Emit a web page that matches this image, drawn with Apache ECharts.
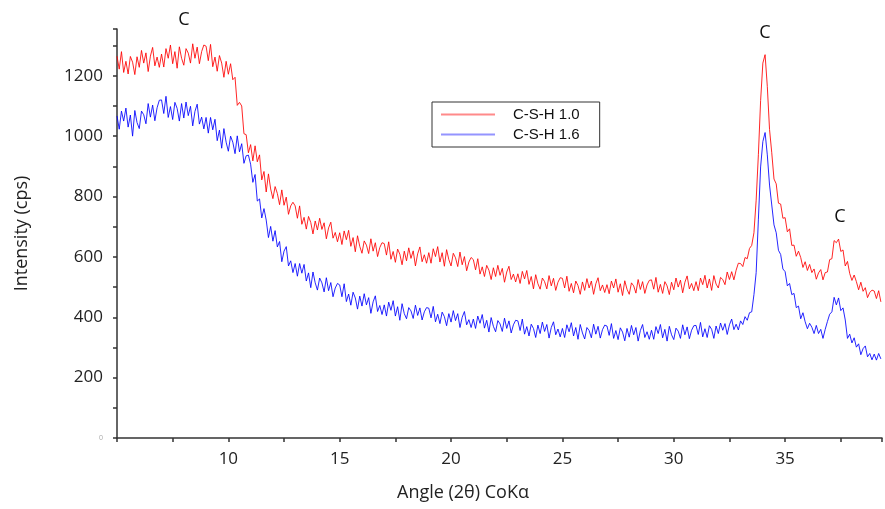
<!DOCTYPE html>
<html>
<head>
<meta charset="utf-8">
<script src="https://cdn.jsdelivr.net/npm/echarts@6/dist/echarts.min.js"></script>
<style>
html,body{margin:0;padding:0;background:#fff;}
#chart{width:885px;height:509px;}
</style>
</head>
<body>
<div id="chart"></div>
<script>
const angles = [
5.0,5.1,5.2,5.3,5.4,5.5,5.6,5.7,5.8,5.9,
6.0,6.1,6.2,6.3,6.4,6.5,6.6,6.7,6.8,6.9,
7.0,7.1,7.2,7.3,7.4,7.5,7.6,7.7,7.8,7.9,
8.0,8.1,8.2,8.3,8.4,8.5,8.6,8.7,8.8,8.9,
9.0,9.1,9.2,9.3,9.4,9.5,9.6,9.7,9.8,9.9,
10.0,10.1,10.2,10.3,10.4,10.5,10.6,10.7,10.8,10.9,
11.0,11.1,11.2,11.3,11.4,11.5,11.6,11.7,11.8,11.9,
12.0,12.1,12.2,12.3,12.4,12.5,12.6,12.7,12.8,12.9,
13.0,13.1,13.2,13.3,13.4,13.5,13.6,13.7,13.8,13.9,
14.0,14.1,14.2,14.3,14.4,14.5,14.6,14.7,14.8,14.9,
15.0,15.1,15.2,15.3,15.4,15.5,15.6,15.7,15.8,15.9,
16.0,16.1,16.2,16.3,16.4,16.5,16.6,16.7,16.8,16.9,
17.0,17.1,17.2,17.3,17.4,17.5,17.6,17.7,17.8,17.9,
18.0,18.1,18.2,18.3,18.4,18.5,18.6,18.7,18.8,18.9,
19.0,19.1,19.2,19.3,19.4,19.5,19.6,19.7,19.8,19.9,
20.0,20.1,20.2,20.3,20.4,20.5,20.6,20.7,20.8,20.9,
21.0,21.1,21.2,21.3,21.4,21.5,21.6,21.7,21.8,21.9,
22.0,22.1,22.2,22.3,22.4,22.5,22.6,22.7,22.8,22.9,
23.0,23.1,23.2,23.3,23.4,23.5,23.6,23.7,23.8,23.9,
24.0,24.1,24.2,24.3,24.4,24.5,24.6,24.7,24.8,24.9,
25.0,25.1,25.2,25.3,25.4,25.5,25.6,25.7,25.8,25.9,
26.0,26.1,26.2,26.3,26.4,26.5,26.6,26.7,26.8,26.9,
27.0,27.1,27.2,27.3,27.4,27.5,27.6,27.7,27.8,27.9,
28.0,28.1,28.2,28.3,28.4,28.5,28.6,28.7,28.8,28.9,
29.0,29.1,29.2,29.3,29.4,29.5,29.6,29.7,29.8,29.9,
30.0,30.1,30.2,30.3,30.4,30.5,30.6,30.7,30.8,30.9,
31.0,31.1,31.2,31.3,31.4,31.5,31.6,31.7,31.8,31.9,
32.0,32.1,32.2,32.3,32.4,32.5,32.6,32.7,32.8,32.9,
33.0,33.1,33.2,33.3,33.4,33.5,33.6,33.7,33.8,33.9,
34.0,34.1,34.2,34.3,34.4,34.5,34.6,34.7,34.8,34.9,
35.0,35.1,35.2,35.3,35.4,35.5,35.6,35.7,35.8,35.9,
36.0,36.1,36.2,36.3,36.4,36.5,36.6,36.7,36.8,36.9,
37.0,37.1,37.2,37.3,37.4,37.5,37.6,37.7,37.8,37.9,
38.0,38.1,38.2,38.3,38.4,38.5,38.6,38.7,38.8,38.9,
39.0,39.1,39.2,39.3
];

const csh10 = [
1265,1222,1280,1211,1248,1206,1264,1245,1204,1263,
1228,1284,1242,1276,1214,1265,1294,1233,1262,1228,
1272,1229,1290,1258,1302,1240,1280,1225,1296,1258,
1235,1290,1275,1242,1306,1258,1295,1240,1280,1302,
1298,1250,1304,1230,1262,1215,1267,1242,1195,1248,
1205,1240,1187,1195,1102,1112,1100,1008,1005,945,
972,918,968,915,938,855,883,815,875,825,
793,833,810,773,822,771,798,741,769,781,
769,728,769,708,731,692,734,714,676,719,
689,728,691,713,660,696,715,662,681,650,
680,641,686,657,688,635,664,617,670,635,
612,653,639,611,660,619,647,601,631,647,
644,606,650,592,618,582,626,609,574,619,
587,630,595,620,570,610,633,584,607,579,
614,579,627,601,634,583,614,569,624,591,
570,612,597,568,616,574,601,554,583,598,
591,557,594,543,567,535,572,556,525,564,
535,572,539,562,516,550,569,525,543,517,
544,512,552,527,555,509,535,494,541,511,
493,530,518,494,538,504,529,489,516,531,
529,497,536,486,512,481,520,505,476,517,
489,528,497,520,476,511,531,488,507,482,
508,478,520,497,527,483,511,472,521,493,
476,514,504,480,525,492,518,479,507,522,
524,493,532,483,509,479,518,504,475,516,
491,530,500,523,481,516,537,494,512,488,
518,488,530,508,539,497,527,489,538,510,
497,532,525,508,550,525,551,524,556,579,
578,568,598,594,628,638,680,788,940,1118,
1242,1270,1165,1022,945,858,842,778,775,728,
730,683,693,638,639,602,619,598,565,584,
555,575,548,560,526,547,558,524,548,550,
591,594,654,647,659,618,623,570,585,545,
522,540,518,491,516,486,498,465,482,490,
487,462,488,451
];

const csh16 = [
1067,1023,1083,1050,1093,1030,1070,1000,1085,1045,
1025,1083,1071,1041,1108,1063,1103,1051,1094,1119,
1120,1075,1132,1062,1098,1055,1112,1092,1050,1108,
1060,1113,1068,1099,1034,1082,1106,1040,1063,1024,
1062,1010,1062,1021,1056,985,1020,960,1025,980,
950,1000,980,942,1001,948,975,910,935,937,
907,847,873,785,792,729,760,722,664,701,
652,687,633,651,584,619,634,570,587,548,
578,536,578,546,575,520,547,498,550,514,
490,530,514,484,531,488,515,468,497,512,
507,468,511,452,477,440,483,464,427,470,
437,478,441,465,413,451,471,419,439,409,
441,404,450,423,455,404,435,390,445,412,
395,432,421,396,440,406,431,391,418,432,
430,398,436,385,410,379,417,402,372,412,
384,422,389,412,366,400,419,375,392,366,
394,363,404,380,409,364,390,351,399,370,
352,389,378,353,397,363,388,348,375,390,
388,356,394,344,369,338,377,363,333,374,
346,384,353,376,331,366,385,342,361,335,
363,333,375,352,382,338,366,327,376,348,
328,366,356,332,377,344,370,331,359,374,
371,340,379,330,356,326,365,351,322,363,
334,373,342,366,321,356,376,333,352,327,
357,327,369,346,376,332,360,321,370,342,
326,364,354,330,375,342,368,329,357,372,
373,343,383,335,362,333,372,360,330,371,
346,381,357,379,343,375,394,359,377,358,
388,376,402,390,415,418,475,548,725,898,
982,1012,938,838,772,706,680,622,608,560,
551,504,512,475,479,432,437,395,415,385,
362,380,367,346,373,346,360,330,360,386,
410,418,466,441,464,422,431,391,330,344,
315,332,301,312,276,296,305,269,280,259,
278,258,280,262
];

const seriesNames = ['C-S-H 1.0', 'C-S-H 1.6'];
const yTicks = [0, 200, 400, 600, 800, 1000, 1200];
const xTicks = [10, 15, 20, 25, 30, 35];
const peakLabels = ['C', 'C', 'C'];

const chart = echarts.init(document.getElementById('chart'), null, {renderer: 'canvas'});

const labelFont = '"Open Sans", "DejaVu Sans", sans-serif';

chart.setOption({
  animation: false,
  backgroundColor: '#ffffff',
  grid: {left: 117, right: 0, top: 29, bottom: 71, containLabel: false},
  legend: {
    orient: 'vertical',
    left: 432,
    top: 102,
    padding: [5, 20, 5, 9],
    itemGap: 5,
    itemWidth: 54,
    itemHeight: 2,
    icon: 'rect',
    borderColor: '#333',
    borderWidth: 1,
    textStyle: {
      fontFamily: '"Liberation Sans", Arial, sans-serif',
      fontSize: 15,
      color: '#111',
      padding: [0, 0, 0, 13]
    },
    data: [
      {name: seriesNames[0], itemStyle: {color: 'rgba(255,60,60,0.6)'}},
      {name: seriesNames[1], itemStyle: {color: 'rgba(60,60,255,0.55)'}}
    ]
  },
  xAxis: {
    type: 'value',
    min: 5,
    max: 39.35,
    interval: 5,
    axisLine: {show: true, onZero: false, lineStyle: {color: '#333', width: 1.5}},
    axisTick: {show: true, length: 4, lineStyle: {color: '#333', width: 1.5}},
    minorTick: {show: true, splitNumber: 2, length: 4, lineStyle: {color: '#333', width: 1.5}},
    splitLine: {show: false},
    minorSplitLine: {show: false},
    axisLabel: {
      margin: 13,
      fontFamily: labelFont,
      fontSize: 17,
      color: '#222',
      formatter: function (v) { return xTicks.indexOf(v) >= 0 ? String(v) : ''; }
    }
  },
  yAxis: {
    type: 'value',
    min: 0,
    max: 1355,
    interval: 200,
    axisLine: {show: true, lineStyle: {color: '#333', width: 1.5}},
    axisTick: {show: true, length: 4, lineStyle: {color: '#333', width: 1.5}},
    minorTick: {show: true, splitNumber: 2, length: 4, lineStyle: {color: '#333', width: 1.5}},
    splitLine: {show: false},
    minorSplitLine: {show: false},
    name: 'Intensity (cps)',
    nameLocation: 'middle',
    nameGap: 86,
    nameTextStyle: {fontFamily: labelFont, fontSize: 18, color: '#222'},
    axisLabel: {
      margin: 14,
      fontFamily: labelFont,
      fontSize: 17,
      color: '#222',
      formatter: function (v) {
        if (yTicks.indexOf(v) < 0) return '';
        return v === 0 ? '{z|0}' : String(v);
      },
      rich: {z: {fontSize: 7, color: '#aaa', fontFamily: labelFont}}
    }
  },
  series: [
    {
      name: seriesNames[0],
      type: 'line',
      showSymbol: false,
      symbol: 'none',
      color: '#ff2020',
      lineStyle: {color: 'rgba(255,0,0,0.85)', width: 1},
      data: angles.map(function (a, i) { return [a, csh10[i]]; })
    },
    {
      name: seriesNames[1],
      type: 'line',
      showSymbol: false,
      symbol: 'none',
      color: '#3030ff',
      lineStyle: {color: 'rgba(0,0,255,0.85)', width: 1},
      data: angles.map(function (a, i) { return [a, csh16[i]]; })
    }
  ],
  graphic: [
    {type: 'text', left: 397, top: 484, style: {text: 'Angle (2θ) CoKα', font: '18px ' + labelFont, fill: '#222'}},
    {type: 'text', x: 184, y: 20, style: {text: peakLabels[0], font: '18px ' + labelFont, fill: '#111', textAlign: 'center', textVerticalAlign: 'middle'}},
    {type: 'text', x: 765, y: 33, style: {text: peakLabels[1], font: '18px ' + labelFont, fill: '#111', textAlign: 'center', textVerticalAlign: 'middle'}},
    {type: 'text', x: 840, y: 217, style: {text: peakLabels[2], font: '18px ' + labelFont, fill: '#111', textAlign: 'center', textVerticalAlign: 'middle'}}
  ]
});
</script>
</body>
</html>
